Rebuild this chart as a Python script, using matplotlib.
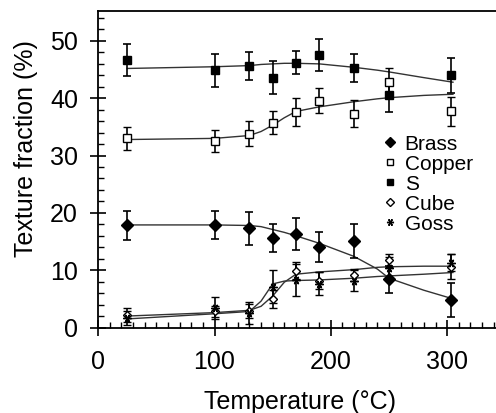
import matplotlib
matplotlib.use("Agg")
import matplotlib.pyplot as plt
from matplotlib.ticker import MultipleLocator

plt.rcParams['font.family'] = ['Liberation Sans', 'DejaVu Sans']

# measured texture fractions (%) vs annealing temperature
temps = [25, 100, 130, 150, 170, 190, 220, 250, 303]
brass = [17.8, 17.9, 17.3, 15.6, 16.3, 14.1, 15.1, 8.4, 4.8]
brass_err = [2.5, 2.4, 2.9, 2.4, 2.8, 2.6, 2.9, 2.4, 2.9]
copper = [33.0, 32.5, 33.8, 35.7, 37.6, 39.6, 37.3, 42.8, 37.7]
copper_err = [2.0, 1.9, 2.2, 2.0, 2.4, 2.2, 2.4, 2.4, 2.6]
s_comp = [46.6, 44.9, 45.6, 43.6, 46.2, 47.5, 45.3, 40.5, 44.0]
s_err = [2.8, 2.9, 2.4, 2.9, 2.0, 2.8, 2.5, 2.9, 3.1]
cube = [2.2, 2.8, 2.9, 5.0, 9.9, 8.2, 9.2, 11.7, 10.6]
cube_err = [1.2, 1.0, 1.2, 1.6, 1.5, 1.4, 1.0, 1.1, 2.2]
goss = [1.6, 3.4, 2.5, 7.1, 8.3, 7.6, 8.2, 10.3, 11.3]
goss_err = [1.2, 1.9, 1.9, 2.9, 2.8, 2.0, 1.8, 2.0, 1.5]

# fitted trend curves
fit_t = [25, 100, 130, 140, 150, 160, 170, 190, 220, 240, 250, 280, 305]
s_fit = [45.2, 45.5, 45.7, 45.9, 46.0, 46.1, 46.1, 46.0, 45.4, 44.9, 44.6, 43.6, 42.8]
copper_fit = [32.8, 33.0, 33.5, 34.2, 35.3, 36.6, 37.7, 38.5, 39.4, 39.9, 40.1, 40.5, 40.7]
brass_fit = [17.9, 17.9, 17.8, 17.6, 17.1, 16.6, 16.0, 14.7, 12.4, 10.2, 8.6, 6.5, 5.0]
cube_fit = [2.0, 2.6, 3.0, 3.7, 5.5, 7.9, 9.3, 9.7, 10.1, 10.5, 10.6, 10.7, 10.7]
goss_fit = [1.5, 2.4, 2.8, 4.6, 7.6, 8.1, 8.2, 8.3, 8.6, 8.9, 9.0, 9.3, 9.6]

fig = plt.figure(figsize=(4.96, 4.13), dpi=100)
ax = fig.add_axes([0.198, 0.207, 0.802, 0.766])

for yf in [s_fit, copper_fit, brass_fit, cube_fit, goss_fit]:
    ax.plot(fit_t, yf, color='#333333', lw=1.0, zorder=1)

ebkw = dict(ls='none', ecolor='black', elinewidth=1.2, capsize=3, capthick=1.2, zorder=2)
ax.errorbar(temps, brass, yerr=brass_err, marker='D', ms=6.5, mfc='black', mec='black', label='Brass', **ebkw)
ax.errorbar(temps, copper, yerr=copper_err, marker='s', ms=5.5, mfc='white', mec='black', mew=1.0, label='Copper', **ebkw)
ax.errorbar(temps, s_comp, yerr=s_err, marker='s', ms=5.5, mfc='black', mec='black', label='S', **ebkw)
ax.errorbar(temps, cube, yerr=cube_err, marker='D', ms=4.5, mfc='white', mec='black', mew=1.0, label='Cube', **ebkw)
ax.errorbar(temps, goss, yerr=goss_err, marker=(6, 2, 90), ms=6, mfc='black', mec='black', mew=1.0, label='Goss', **ebkw)

ax.set_xlim(0, 342)
ax.set_ylim(0, 55.2)
ax.xaxis.set_major_locator(MultipleLocator(100))
ax.xaxis.set_minor_locator(MultipleLocator(10))
ax.yaxis.set_major_locator(MultipleLocator(10))
ax.yaxis.set_minor_locator(MultipleLocator(2))

ax.tick_params(which='major', direction='inout', length=11, width=1.2, labelsize=18)
ax.tick_params(axis='y', which='major', pad=9)
ax.tick_params(axis='x', which='major', pad=11)
ax.tick_params(which='minor', direction='in', length=4, width=1.0)

for side in ['left', 'bottom', 'top']:
    ax.spines[side].set_linewidth(1.3)
ax.spines['right'].set_visible(False)

ax.set_xlabel('Temperature (°C)', fontsize=18)
ax.set_ylabel('Texture fraction (%)', fontsize=18)
ax.xaxis.set_label_coords(0.507, -0.197)
ax.yaxis.set_label_coords(-0.152, 0.567)

handles, labels = ax.get_legend_handles_labels()
handles = [h[0] for h in handles]
ax.legend(handles, labels, loc='upper left', bbox_to_anchor=(0.718, 0.61), frameon=False,
          fontsize=15, markerscale=0.85, handlelength=0.6, handletextpad=0.4,
          labelspacing=0.05, borderpad=0, borderaxespad=0)

fig.savefig('out.png', dpi=100)
